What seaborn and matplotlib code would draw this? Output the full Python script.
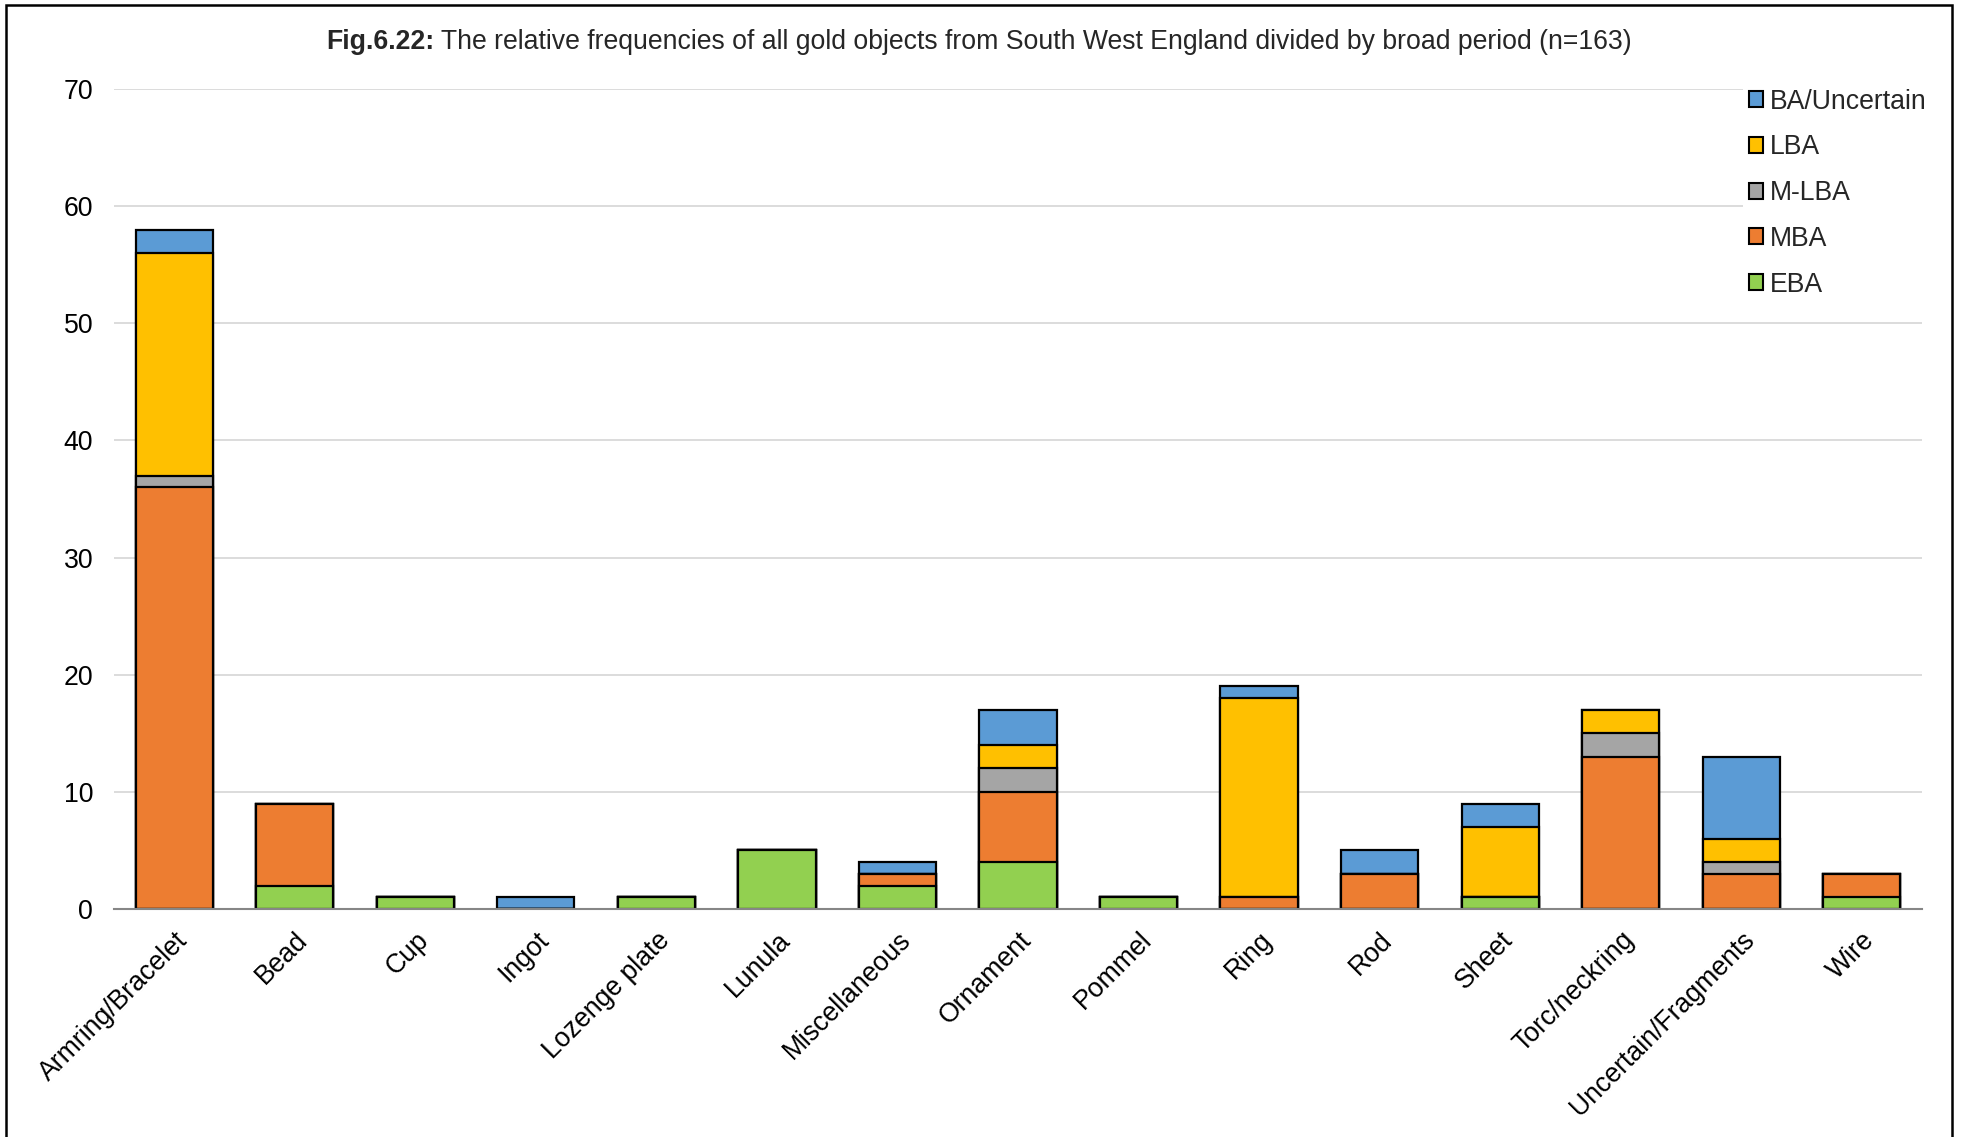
import matplotlib
matplotlib.use("Agg")
import matplotlib.pyplot as plt
from matplotlib.patches import Rectangle, Patch
import numpy as np
import pandas as pd
import seaborn as sns

categories = ["Armring/Bracelet", "Bead", "Cup", "Ingot", "Lozenge plate", "Lunula",
              "Miscellaneous", "Ornament", "Pommel", "Ring", "Rod", "Sheet",
              "Torc/neckring", "Uncertain/Fragments", "Wire"]

eba = [0, 2, 1, 0, 1, 5, 2, 4, 1, 0, 0, 1, 0, 0, 1]
mba = [36, 7, 0, 0, 0, 0, 1, 6, 0, 1, 3, 0, 13, 3, 2]
mlba = [1, 0, 0, 0, 0, 0, 0, 2, 0, 0, 0, 0, 2, 1, 0]
lba = [19, 0, 0, 0, 0, 0, 0, 2, 0, 17, 0, 6, 2, 2, 0]
ba_unc = [2, 0, 0, 1, 0, 0, 1, 3, 0, 1, 2, 2, 0, 7, 0]

series_names = ["EBA", "MBA", "M-LBA", "LBA", "BA/Uncertain"]
series_vals = [eba, mba, mlba, lba, ba_unc]
series_colors = ["#92D050", "#ED7D31", "#A5A5A5", "#FFC000", "#5B9BD5"]

sns.set_theme(style="white")
plt.rcParams["font.family"] = ["Liberation Sans", "DejaVu Sans"]

FS = 19.2

fig = plt.figure(figsize=(19.61, 11.37), dpi=100)
ax = fig.add_axes([114 / 1961, 1 - 909 / 1137, (1922 - 114) / 1961, (909 - 89) / 1137])

# stacked bars: draw cumulative totals from the top series down
cum = np.cumsum(np.array(series_vals), axis=0)
for i in range(len(series_names) - 1, -1, -1):
    df = pd.DataFrame({"category": categories, "value": cum[i]})
    sns.barplot(data=df, x="category", y="value", color=series_colors[i],
                saturation=1, width=0.64, edgecolor="black", linewidth=1.6,
                errorbar=None, ax=ax, zorder=3)

ax.set_ylim(0, 70)
ax.set_xlim(-0.5, len(categories) - 0.5)
ax.set_yticks(range(0, 71, 10))
ax.yaxis.grid(True, color="#D9D9D9", linewidth=1.3, zorder=0)
ax.xaxis.grid(False)
ax.set_axisbelow(True)
for s in ["left", "right", "top"]:
    ax.spines[s].set_visible(False)
ax.spines["bottom"].set_color("#868686")
ax.spines["bottom"].set_linewidth(1.5)
ax.spines["bottom"].set_zorder(4)
ax.set_xlabel("")
ax.set_ylabel("")
ax.tick_params(axis="y", length=0, pad=15, labelsize=FS, colors="black")
ax.tick_params(axis="x", length=0, pad=13, labelsize=FS, colors="black")
ax.set_xticks(range(len(categories)))
ax.set_xticklabels(categories, rotation=45, ha="right", va="top",
                   rotation_mode="anchor")

# legend, top series first
handles = [Patch(facecolor=series_colors[i], edgecolor="black", linewidth=1.5,
                 label=series_names[i]) for i in range(len(series_names) - 1, -1, -1)]
leg = fig.legend(handles=handles, loc="upper left",
                 bbox_to_anchor=(1730 / 1961, 1 - 70 / 1137),
                 frameon=True, facecolor="white", edgecolor="none", framealpha=1,
                 fontsize=FS, handlelength=0.55, handleheight=0.55,
                 handletextpad=0.25, labelspacing=0.74, borderpad=0.2)

# title with bold figure number
fig.canvas.draw()
renderer = fig.canvas.get_renderer()
ty = 1 - 42 / 1137
t1 = fig.text(0, ty, "Fig.6.22:", fontsize=FS, fontweight="bold", ha="left", va="center")
t2 = fig.text(0, ty, " The relative frequencies of all gold objects from South West England divided by broad period (n=163)",
              fontsize=FS, ha="left", va="center")
w1 = t1.get_window_extent(renderer).width / fig.bbox.width
w2 = t2.get_window_extent(renderer).width / fig.bbox.width
x0 = 979 / 1961 - (w1 + w2) / 2
t1.set_x(x0)
t2.set_x(x0 + w1)

# outer frame
fig.patches.append(Rectangle((6 / 1961, -0.02), (1952 - 6) / 1961, 1.02 - 5 / 1137,
                             transform=fig.transFigure, fill=False,
                             edgecolor="black", linewidth=1.8, zorder=10))

fig.savefig("out.png", dpi=100)
